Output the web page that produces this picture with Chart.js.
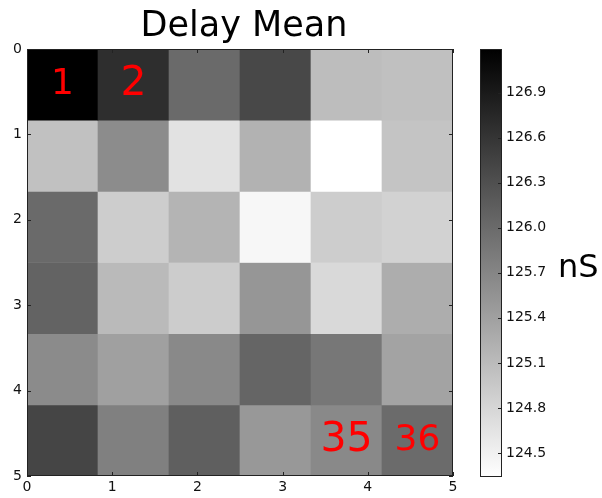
<!DOCTYPE html>
<html>
<head>
<meta charset="utf-8">
<script src="https://cdn.jsdelivr.net/npm/chart.js@4.4.1/dist/chart.umd.min.js"></script>
<style>
  body { margin: 0; background: #fff; }
  #wrap { position: relative; width: 602px; height: 498px; }
  #mainBox { position: absolute; left: 0; top: 0; width: 488px; height: 498px; }
  #barBox { position: absolute; left: 470px; top: 0; width: 132px; height: 498px; }
</style>
</head>
<body>
<div id="wrap">
  <div id="mainBox"><canvas id="heat"></canvas></div>
  <div id="barBox"><canvas id="cbar"></canvas></div>
</div>
<script>
// delay mean per cell (nS), row by row, top row first
const row0 = [127.19, 126.68, 126.00, 126.38, 125.08, 125.04];
const row1 = [125.03, 125.63, 124.66, 125.20, 124.34, 125.00];
const row2 = [126.00, 124.90, 125.18, 124.43, 124.90, 124.84];
const row3 = [126.08, 125.11, 124.91, 125.51, 124.76, 125.26];
const row4 = [125.64, 125.40, 125.66, 126.06, 125.86, 125.37];
const row5 = [126.42, 125.76, 126.13, 125.49, 125.66, 125.99];
const rows = [row0, row1, row2, row3, row4, row5];

const axisTicks = [0, 1, 2, 3, 4, 5];
const colorbarTicks = [124.5, 124.8, 125.1, 125.4, 125.7, 126.0, 126.3, 126.6, 126.9];
const labeledCells = [1, 2, 35, 36];   // cell numbers written in red

const FONT = "'DejaVu Sans', sans-serif";
const labelSize = { 1: 36, 2: 41, 35: 41, 36: 36 };

const allVals = rows.flat();
const vmin = Math.min(...allVals);
const vmax = Math.max(...allVals);
const extent = axisTicks[axisTicks.length - 1];
const cw = extent / row0.length;   // cell size in axis units

function gray(v) {
  const g = Math.round(255 * (vmax - v) / (vmax - vmin));
  return `rgb(${g},${g},${g})`;
}

function fixTicks(list) {
  return axis => { axis.ticks = list.map(v => ({ value: v })); };
}

// frame + inward tick marks, like matplotlib
function drawFrame(chart, xTicks, yTicks, sides) {
  const { ctx, chartArea: a, scales } = chart;
  ctx.save();
  ctx.strokeStyle = '#222';
  ctx.lineWidth = 1;
  ctx.strokeRect(a.left + 0.5, a.top + 0.5, a.right - a.left - 1, a.bottom - a.top - 1);
  const len = 4;
  ctx.beginPath();
  xTicks.forEach(v => {
    const px = Math.round(scales.x.getPixelForValue(v)) + 0.5;
    if (sides.bottom) { ctx.moveTo(px, a.bottom); ctx.lineTo(px, a.bottom - len); }
    if (sides.top) { ctx.moveTo(px, a.top); ctx.lineTo(px, a.top + len); }
  });
  yTicks.forEach(v => {
    const py = Math.round(scales.y.getPixelForValue(v)) + 0.5;
    if (sides.left) { ctx.moveTo(a.left, py); ctx.lineTo(a.left + len, py); }
    if (sides.right) { ctx.moveTo(a.right, py); ctx.lineTo(a.right - len, py); }
  });
  ctx.stroke();
  ctx.restore();
}

const heatDecor = {
  id: 'heatDecor',
  afterDatasetsDraw(chart) {
    const { ctx, scales } = chart;
    ctx.save();
    ctx.fillStyle = '#ff0000';
    ctx.textAlign = 'center';
    ctx.textBaseline = 'middle';
    labeledCells.forEach(n => {
      const r = Math.floor((n - 1) / row0.length);
      const c = (n - 1) % row0.length;
      ctx.font = `${labelSize[n]}px ${FONT}`;
      const x = scales.x.getPixelForValue((c + 0.5) * cw);
      const y = scales.y.getPixelForValue((r + 0.5) * cw);
      ctx.fillText(String(n), x, y);
    });
    ctx.restore();
    drawFrame(chart, axisTicks, axisTicks, { top: true, bottom: true, left: true, right: true });
  }
};

const heatData = rows.map((row, r) => ({
  data: row.map((v, c) => ({ x: (c + 0.5) * cw, y: [r * cw, (r + 1) * cw] })),
  backgroundColor: row.map(gray),
  borderWidth: 0,
  grouped: false,
  barPercentage: 1,
  categoryPercentage: 1
}));

const tickFont = { family: FONT, size: 14 };

new Chart(document.getElementById('heat'), {
  type: 'bar',
  data: { datasets: heatData },
  options: {
    responsive: true,
    maintainAspectRatio: false,
    animation: false,
    events: [],
    layout: { padding: 0 },
    plugins: {
      legend: { display: false },
      tooltip: { enabled: false },
      title: {
        display: true,
        text: 'Delay Mean',
        color: '#000',
        font: { family: FONT, size: 35, weight: 'normal' },
        padding: { top: 6, bottom: 1 }
      }
    },
    scales: {
      x: {
        type: 'linear', min: 0, max: extent, offset: false,
        afterBuildTicks: fixTicks(axisTicks),
        afterFit: s => { s.height = 22; },
        grid: { display: false, drawTicks: false },
        border: { display: false },
        ticks: { color: '#111', font: tickFont, padding: 3, maxRotation: 0 }
      },
      y: {
        type: 'linear', min: 0, max: extent, reverse: true,
        afterBuildTicks: fixTicks(axisTicks),
        afterFit: s => { s.width = 27; },
        grid: { display: false, drawTicks: false },
        border: { display: false },
        ticks: { color: '#111', font: tickFont, padding: 5 }
      },
      // empty spacer on the right so the title sits centred like the original
      spacer: {
        type: 'linear', position: 'right', display: true, min: 0, max: 1,
        afterFit: s => { s.width = 35; },
        grid: { display: false, drawTicks: false },
        border: { display: false },
        ticks: { display: false }
      }
    }
  },
  plugins: [heatDecor]
});

const barDecor = {
  id: 'barDecor',
  afterDatasetsDraw(chart) {
    const { ctx, chartArea: a } = chart;
    drawFrame(chart, [], colorbarTicks, { right: true });
    ctx.save();
    ctx.fillStyle = '#000';
    ctx.font = `32px ${FONT}`;
    ctx.textAlign = 'left';
    ctx.textBaseline = 'middle';
    ctx.fillText('nS', 88, (a.top + a.bottom) / 2 + 6);
    ctx.restore();
  }
};

new Chart(document.getElementById('cbar'), {
  type: 'bar',
  data: {
    labels: ['nS'],
    datasets: [{
      data: [[vmin, vmax]],
      backgroundColor: ctx => {
        const a = ctx.chart.chartArea;
        if (!a) return '#888';
        const g = ctx.chart.ctx.createLinearGradient(0, a.top, 0, a.bottom);
        g.addColorStop(0, gray(vmax));
        g.addColorStop(1, gray(vmin));
        return g;
      },
      borderWidth: 0,
      barPercentage: 1,
      categoryPercentage: 1
    }]
  },
  options: {
    responsive: true,
    maintainAspectRatio: false,
    animation: false,
    events: [],
    layout: { padding: { left: 10, right: 0, top: 49, bottom: 21 } },
    plugins: { legend: { display: false }, tooltip: { enabled: false } },
    scales: {
      x: { display: false },
      y: {
        position: 'right', min: vmin, max: vmax,
        afterBuildTicks: fixTicks(colorbarTicks),
        afterFit: s => { s.width = 100; },
        grid: { display: false, drawTicks: false },
        border: { display: false },
        ticks: { color: '#111', font: tickFont, padding: 4, callback: v => v.toFixed(1) }
      }
    }
  },
  plugins: [barDecor]
});
</script>
</body>
</html>
